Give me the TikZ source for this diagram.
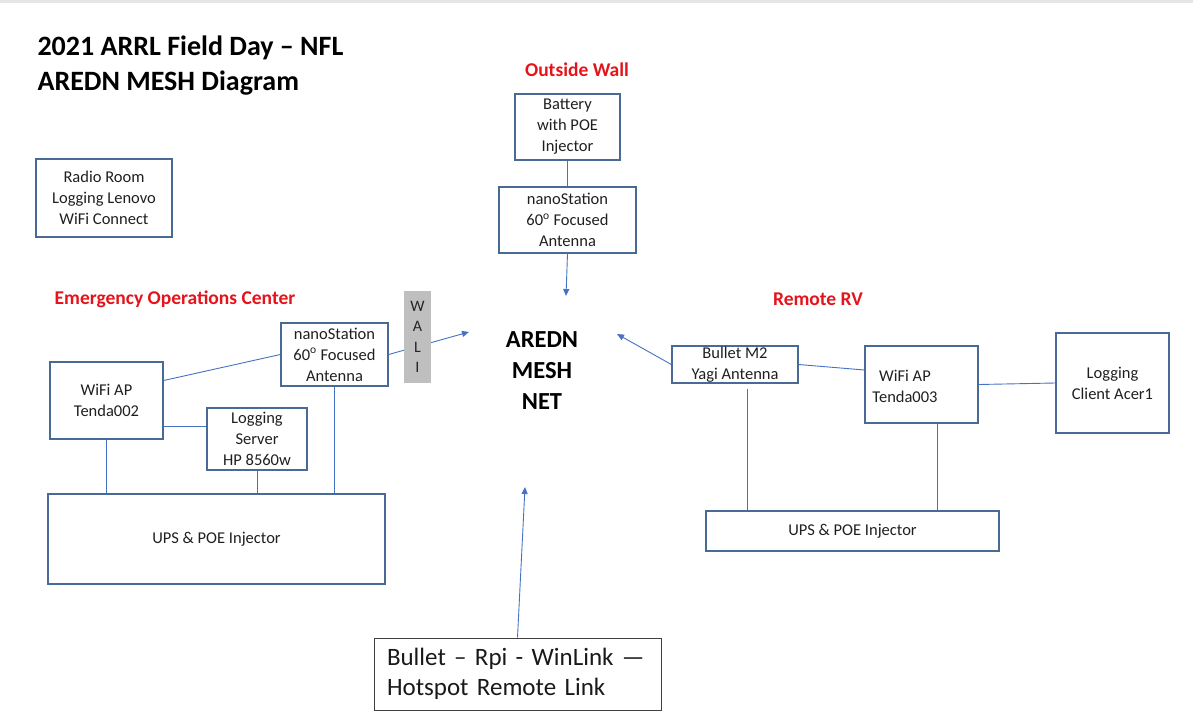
\documentclass[tikz,border=0pt]{standalone}
\usepackage{fontspec}
\setmainfont{Carlito}
\usepackage{xcolor}
\usepackage{tikz}
\usetikzlibrary{arrows.meta}
\definecolor{boxline}{HTML}{4A6A96}
\definecolor{linkblue}{HTML}{4472C4}
\definecolor{headred}{HTML}{E3141B}
\definecolor{wallgray}{HTML}{BFBFBF}
\tikzset{
  box/.style={draw=boxline, line width=1.3pt, inner sep=0pt, align=center, text=black!88, font=\fontsize{16.5}{21}\selectfont},
  link/.style={draw=linkblue, line width=0.9pt},
  tolink/.style={link, -{Triangle[width=6pt,length=7pt]}},
  redhead/.style={text=headred, font=\bfseries\fontsize{19.5}{23}\selectfont},
}

\begin{document}
\begin{tikzpicture}[x=1pt,y=-1pt]
  \useasboundingbox (0,0) rectangle (1193,711);
  \fill[black!10] (0,0) rectangle (1193,3);

  \node[anchor=west, align=left, font=\bfseries\fontsize{28}{35}\selectfont] (title) at (34,65.5) {2021 ARRL Field Day – NFL\\AREDN MESH Diagram};
  \node[box, minimum width=136pt, minimum height=78pt] (radio) at (104,198) {Radio Room\\Logging Lenovo\\WiFi Connect};

  \node[redhead] (owall) at (577,70) {Outside Wall};
  \node[box, minimum width=105pt, minimum height=66pt] (battery) at (567.5,127) {Battery\\with POE\\Injector};
  \node[box, minimum width=137pt, minimum height=66pt] (nanoTop) at (567.5,220) {nanoStation\\60\textsuperscript{o} Focused\\Antenna};
  \coordinate (meshTop) at (566,296);
  \draw[link] (battery) -- (nanoTop);
  \draw[tolink] (nanoTop.south) -- (meshTop);

  \node[align=center, font=\bfseries\fontsize{24.5}{31}\selectfont] (mesh) at (542,371) {AREDN\\MESH\\NET};

  \node[redhead] (eoc) at (175,299) {Emergency Operations Center};
  \node[box, minimum width=107pt, minimum height=63pt] (nanoEOC) at (334.5,354.5) {nanoStation\\60\textsuperscript{o} Focused\\Antenna};
  \coordinate (meshLeft) at (469,332);
  \draw[tolink] (nanoEOC.east) -- (meshLeft);
  \node[fill=wallgray, minimum width=27pt, minimum height=92pt, inner sep=0pt, align=center, text=black!85, font=\fontsize{16}{20.3}\selectfont] (wall) at (417.5,337) {W\\A\\L\\I};
  \node[box, minimum width=113pt, minimum height=77pt] (apEOC) at (106.5,400.5) {WiFi AP\\Tenda002};
  \node[box, minimum width=100pt, minimum height=62pt] (logSrv) at (257,439) {Logging\\Server\\HP 8560w};
  \node[box, minimum width=337pt, minimum height=90pt] (upsEOC) at (216.5,539) {UPS \& POE Injector};
  \draw[link] ([yshift=20pt]apEOC.east) -- (nanoEOC.west);
  \draw[link] ([yshift=13pt]logSrv.west) coordinate (srvIn) -- (srvIn -| apEOC.east);
  \draw[link] (apEOC.south) -- (apEOC.south |- upsEOC.north);
  \draw[link] (logSrv.south) -- (logSrv.south |- upsEOC.north);
  \draw[link] (nanoEOC.south) -- (nanoEOC.south |- upsEOC.north);

  \node[redhead] (rv) at (818,299) {Remote RV};
  \node[box, minimum width=126pt, minimum height=37pt] (bulletRV) at (735,364.5) {Bullet M2\\Yagi Antenna};
  \node[box, minimum width=113pt, minimum height=77pt] (apRV) at (921.5,384.5) {};
  \node[align=center, text=black!88, font=\fontsize{16.5}{21}\selectfont] (apRVtext) at (905,386.5) {WiFi AP\\Tenda003};
  \node[box, minimum width=113pt, minimum height=100pt] (logCli) at (1112.5,383) {Logging\\Client Acer1};
  \node[box, minimum width=293pt, minimum height=40pt] (upsRV) at (852.5,531) {UPS \& POE Injector};
  \coordinate (meshRight) at (617,334);
  \draw[tolink] (bulletRV.west) -- (meshRight);
  \draw[link] (bulletRV.east) -- ([yshift=14.5pt]apRV.west);
  \draw[link] (apRV.east) -- (logCli.west);
  \draw[link] ([xshift=12pt,yshift=-5pt]bulletRV.south) coordinate (bulDown) -- (bulDown |- upsRV.north);
  \draw[link] ([xshift=15.5pt]apRV.south) coordinate (apDown) -- (apDown |- upsRV.north);

  \node[draw=black!75, line width=1pt, minimum height=72pt, text width=261pt, inner xsep=13pt, align=left, text=black!90, font=\fontsize{25}{30}\selectfont] (rpi) at (517.5,674) {Bullet – Rpi - WinLink —\\Hotspot Remote Link};
  \coordinate (meshBottom) at (525,487);
  \draw[tolink] (rpi.north) -- (meshBottom);

\end{tikzpicture}
\end{document}
